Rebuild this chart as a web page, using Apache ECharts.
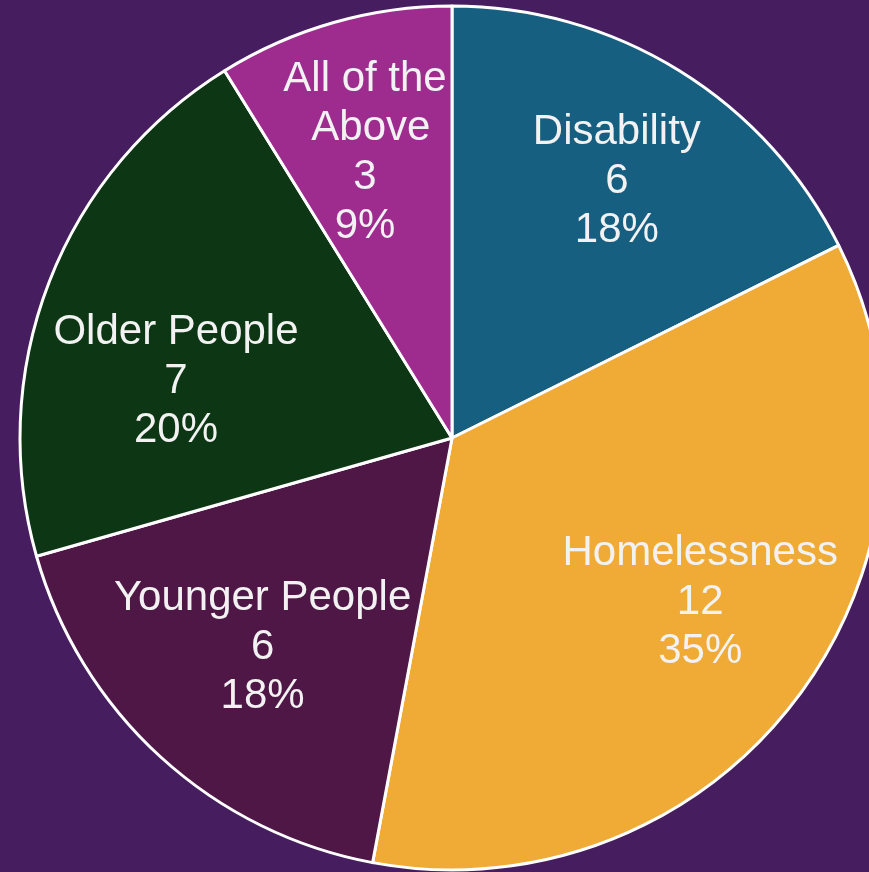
<!DOCTYPE html>
<html>
<head>
<meta charset="utf-8">
<style>
  html, body { margin: 0; padding: 0; background: #461d5f; }
  #chart { width: 869px; height: 872px; }
</style>
<script src="https://cdn.jsdelivr.net/npm/echarts@6/dist/echarts.min.js"></script>
</head>
<body>
<div id="chart"></div>
<script>
// Referral categories and counts
const categories = ['Disability', 'Homelessness', 'Younger People', 'Older People', 'All of the Above'];
const counts = [6, 12, 6, 7, 3];
const percentLabels = ['18%', '35%', '18%', '20%', '9%'];
const sliceColors = ['#175f80', '#f0aa36', '#4e1745', '#0d3614', '#9e2c8e'];
// small per-label nudges from the default inside position
const labelNudges = [[9, -5], [12, -14], [10, -9], [0, 50], [-6, 0]];

const chart = echarts.init(document.getElementById('chart'), null, { renderer: 'canvas' });

const center = [452, 438];
const outerR = 432;

const sliceData = categories.map((name, i) => ({
  name: name,
  value: counts[i],
  itemStyle: { color: sliceColors[i] }
}));

const labelData = categories.map((name, i) => {
  const lbl = { offset: labelNudges[i] };
  if (name === 'All of the Above') { lbl.width = 172; lbl.overflow = 'break'; }
  return { name: name, value: counts[i], label: lbl };
});

chart.setOption({
  backgroundColor: '#461d5f',
  animation: false,
  series: [
    {
      type: 'pie',
      center: center,
      radius: [0, outerR],
      startAngle: 90,
      clockwise: true,
      silent: true,
      label: { show: false },
      labelLine: { show: false },
      itemStyle: { borderColor: '#ffffff', borderWidth: 3 },
      data: sliceData
    },
    {
      // transparent ring that only carries the labels further out from the centre
      type: 'pie',
      center: center,
      radius: [154, outerR],
      startAngle: 90,
      clockwise: true,
      silent: true,
      itemStyle: { color: 'rgba(0,0,0,0)', borderWidth: 0 },
      label: {
        show: true,
        position: 'inside',
        color: '#f2f2f2',
        fontFamily: 'Liberation Sans, Arial, sans-serif',
        fontSize: 42,
        lineHeight: 49,
        align: 'center',
        formatter: (p) => p.name + '\n' + p.value + '\n' + percentLabels[p.dataIndex]
      },
      labelLine: { show: false },
      data: labelData
    }
  ]
});
</script>
</body>
</html>
